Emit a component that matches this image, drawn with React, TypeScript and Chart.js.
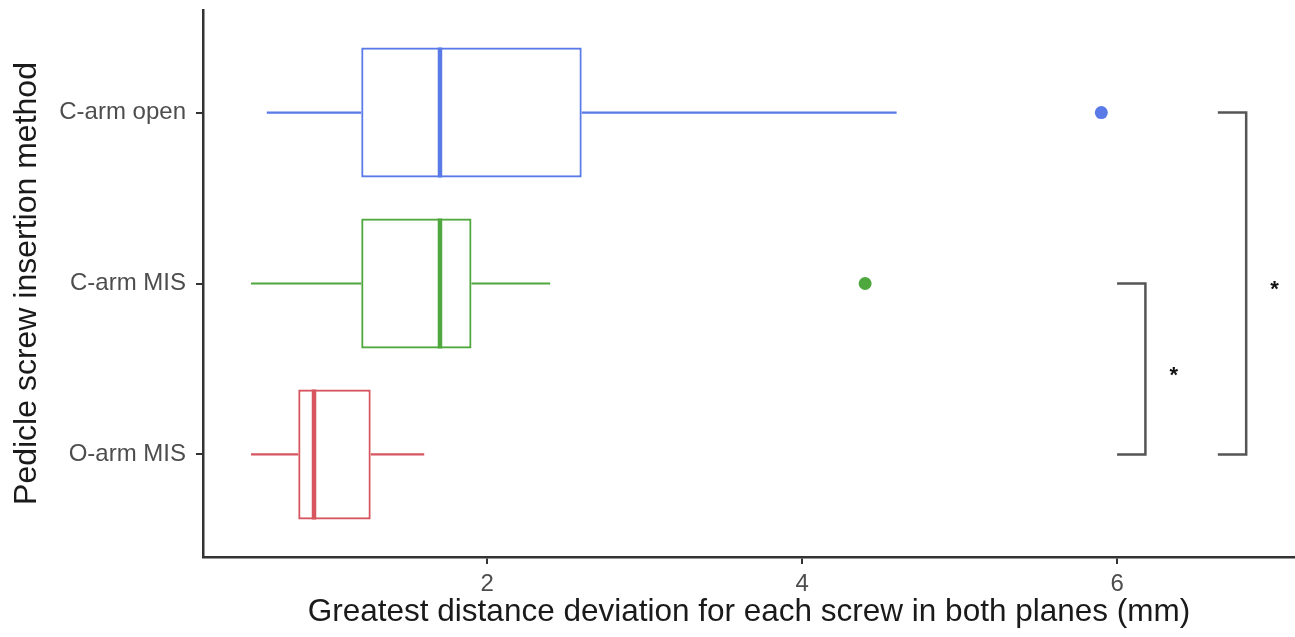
import { useEffect, useRef } from 'react';
import { Chart, registerables } from 'chart.js';

Chart.register(...registerables);

const categories = ['C-arm open', 'C-arm MIS', 'O-arm MIS'];
const positions = [3, 2, 1];
const whiskerLow = [0.6, 0.5, 0.5];
const q1 = [1.2, 1.2, 0.8];
const medians = [1.7, 1.7, 0.9];
const q3 = [2.6, 1.9, 1.26];
const whiskerHigh = [4.6, 2.4, 1.6];
const outlierValues = [5.9, 4.4];
const outlierGroups = [0, 1];
const xTicks = [2, 4, 6];
const bracketFrom = [2, 3];
const bracketTo = [1, 1];
const bracketTip = [6.0, 6.64];
const bracketSpine = [6.18, 6.82];
const starX = [6.36, 7.0];
const starLabels = ['*', '*'];

const colors = ['#5a7ae8', '#4fa83d', '#d6555f'];
const FONT = "'Liberation Sans', Arial, Helvetica, sans-serif";

const extrasPlugin = {
  id: 'boxExtras',
  afterDatasetsDraw(chart: any) {
    const { ctx, scales } = chart;
    const x = scales.x;
    const y = scales.y;
    const meta = chart.getDatasetMeta(0);
    ctx.save();
    categories.forEach((_, i) => {
      const bar: any = meta.data[i];
      const yc = y.getPixelForValue(positions[i]);
      const half = bar.height / 2;
      ctx.strokeStyle = colors[i];
      ctx.lineCap = 'butt';
      ctx.lineWidth = 2.2;
      ctx.beginPath();
      ctx.moveTo(x.getPixelForValue(whiskerLow[i]), yc);
      ctx.lineTo(x.getPixelForValue(q1[i]), yc);
      ctx.moveTo(x.getPixelForValue(q3[i]), yc);
      ctx.lineTo(x.getPixelForValue(whiskerHigh[i]), yc);
      ctx.stroke();
      ctx.lineWidth = 4.5;
      const mx = x.getPixelForValue(medians[i]);
      ctx.beginPath();
      ctx.moveTo(mx, yc - half);
      ctx.lineTo(mx, yc + half);
      ctx.stroke();
    });
    // significance brackets
    ctx.strokeStyle = '#555555';
    ctx.lineWidth = 2.5;
    ctx.lineJoin = 'miter';
    bracketFrom.forEach((from, k) => {
      const y1 = y.getPixelForValue(from);
      const y2 = y.getPixelForValue(bracketTo[k]);
      const xt = x.getPixelForValue(bracketTip[k]);
      const xs = x.getPixelForValue(bracketSpine[k]);
      ctx.beginPath();
      ctx.moveTo(xt, y1);
      ctx.lineTo(xs, y1);
      ctx.lineTo(xs, y2);
      ctx.lineTo(xt, y2);
      ctx.stroke();
      const size = 22;
      ctx.fillStyle = '#111111';
      ctx.font = `bold ${size}px ${FONT}`;
      ctx.textAlign = 'center';
      ctx.textBaseline = 'alphabetic';
      const sy = y.getPixelForValue((from + bracketTo[k]) / 2);
      ctx.fillText(starLabels[k], x.getPixelForValue(starX[k]), sy + 0.57 * size);
    });
    ctx.restore();
  },
};

export default function App() {
  const ref = useRef<HTMLCanvasElement | null>(null);

  useEffect(() => {
    if (!ref.current) return;
    const chart = new Chart(ref.current, {
      type: 'bar',
      data: {
        datasets: [
          {
            type: 'bar',
            indexAxis: 'y',
            data: positions.map((p, i) => ({ x: [q1[i], q3[i]], y: p })) as any,
            backgroundColor: '#ffffff',
            borderColor: colors,
            borderWidth: 2.2,
            borderSkipped: false,
            barPercentage: 0.76,
            categoryPercentage: 1,
          } as any,
          {
            type: 'scatter',
            data: outlierValues.map((v, k) => ({ x: v, y: positions[outlierGroups[k]] })),
            pointBackgroundColor: outlierGroups.map((g) => colors[g]),
            pointBorderWidth: 0,
            pointRadius: 6.5,
          } as any,
        ],
      },
      options: {
        indexAxis: 'y',
        animation: false,
        responsive: false,
        devicePixelRatio: 1,
        layout: { autoPadding: false, padding: { top: 10, right: 0, left: 0, bottom: 0 } },
        plugins: { legend: { display: false }, tooltip: { enabled: false } },
        scales: {
          x: {
            type: 'linear',
            min: 0.195,
            max: 7.13,
            offset: false,
            afterBuildTicks: (s: any) => {
              s.ticks = xTicks.map((v) => ({ value: v }));
            },
            afterFit: (s: any) => {
              s.height = 80;
              s.paddingLeft = 0;
              s.paddingRight = 0;
            },
            ticks: { color: '#4d4d4d', font: { family: FONT, size: 24 }, padding: 6 },
            grid: { display: true, offset: false, drawOnChartArea: false, drawTicks: true, tickLength: 7, color: '#333333', lineWidth: 2 },
            border: { display: true, color: '#333333', width: 2.5 },
            title: {
              display: true,
              text: 'Greatest distance deviation for each screw in both planes (mm)',
              color: '#1a1a1a',
              font: { family: FONT, size: 31.5 },
              padding: { top: 0, bottom: 6 },
            },
          },
          y: {
            type: 'linear',
            min: 0.4,
            max: 3.6,
            offset: false,
            afterBuildTicks: (s: any) => {
              s.ticks = positions.map((v) => ({ value: v }));
            },
            afterFit: (s: any) => {
              s.width = 203;
              s.paddingTop = 0;
              s.paddingBottom = 0;
            },
            ticks: {
              color: '#4d4d4d',
              font: { family: FONT, size: 24 },
              padding: 10,
              callback: (v: any) => categories[positions.indexOf(Number(v))] ?? '',
            },
            grid: { display: true, offset: false, drawOnChartArea: false, drawTicks: true, tickLength: 7, color: '#333333', lineWidth: 2 },
            border: { display: true, color: '#333333', width: 2.5 },
            title: {
              display: true,
              text: 'Pedicle screw insertion method',
              color: '#1a1a1a',
              font: { family: FONT, size: 32 },
              padding: { top: 8, bottom: 0 },
            },
          },
        },
      } as any,
      plugins: [extrasPlugin],
    });
    return () => chart.destroy();
  }, []);

  return (
    <div style={{ position: 'absolute', left: 0, top: 0, width: 1295, height: 637, background: '#ffffff' }}>
      <canvas ref={ref} width={1295} height={637} />
    </div>
  );
}
